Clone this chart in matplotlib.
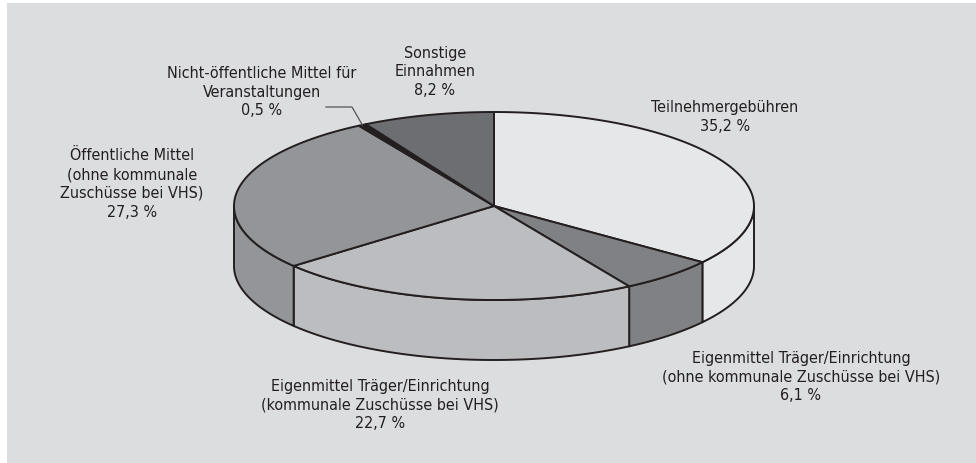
import numpy as np
import matplotlib
matplotlib.use("Agg")
import matplotlib.pyplot as plt
from matplotlib.patches import Polygon, Rectangle

plt.rcParams["font.family"] = ["DejaVu Sans"]
plt.rcParams["font.stretch"] = "condensed"

# shares in percent, clockwise from 12 o'clock
labels = [
    "Teilnehmergebühren\n35,2 %",
    "Eigenmittel Träger/Einrichtung\n(ohne kommunale Zuschüsse bei VHS)\n6,1 %",
    "Eigenmittel Träger/Einrichtung\n(kommunale Zuschüsse bei VHS)\n22,7 %",
    "Öffentliche Mittel\n(ohne kommunale\nZuschüsse bei VHS)\n27,3 %",
    "Nicht-öffentliche Mittel für\nVeranstaltungen\n0,5 %",
    "Sonstige\nEinnahmen\n8,2 %",
]
shares = [35.2, 6.1, 22.7, 27.3, 0.5, 8.2]
colors = ["#e6e7e8", "#808184", "#bcbdc0", "#939598", "#231f20", "#6d6e71"]
label_pos = [(725, 117), (801, 377), (380, 405), (132, 184), (262, 92), (435, 72)]

W, H = 976, 463
cx, cy = 494, 206
a, b = 260, 94
depth = 60
edge = "#231f20"
lw = 1.4


def ell(t):
    t = np.radians(t)
    return cx + a * np.cos(t), cy - b * np.sin(t)


fig = plt.figure(figsize=(W / 100, H / 100), dpi=100)
ax = fig.add_axes([0, 0, 1, 1])
ax.set_xlim(0, W)
ax.set_ylim(H, 0)
ax.axis("off")
ax.add_patch(Rectangle((7, 3), W, H, facecolor="#dcdddf", edgecolor="none"))

# angle ranges (degrees, counter-clockwise math angles)
bounds = 90 - 3.6 * np.concatenate([[0], np.cumsum(shares)])

# side walls on the front half
for i, col in enumerate(colors):
    t_hi, t_lo = bounds[i], bounds[i + 1]
    lo, hi = max(t_lo, -180), min(t_hi, 0)
    if hi <= lo:
        continue
    ts = np.linspace(lo, hi, 80)
    xs, ys = ell(ts)
    pts = np.column_stack([np.r_[xs, xs[::-1]], np.r_[ys, ys[::-1] + depth]])
    ax.add_patch(Polygon(pts, closed=True, facecolor=col, edgecolor=edge,
                         linewidth=lw, joinstyle="round"))

# top wedges
for i, col in enumerate(colors):
    ts = np.linspace(bounds[i], bounds[i + 1], 120)
    xs, ys = ell(ts)
    pts = np.column_stack([np.r_[cx, xs], np.r_[cy, ys]])
    ax.add_patch(Polygon(pts, closed=True, facecolor=col, edgecolor=edge,
                         linewidth=lw, joinstyle="round"))

for text, (x, y) in zip(labels, label_pos):
    ax.text(x, y, text, ha="center", va="center", fontsize=11.5,
            color="#231f20", linespacing=1.33)

# leader for the tiny slice
mid = (bounds[4] + bounds[5]) / 2
ex, ey = ell(mid)
ax.plot([326, 352, ex], [107, 107, ey], color="#555555", lw=0.9)

fig.savefig("out.png", dpi=100)
